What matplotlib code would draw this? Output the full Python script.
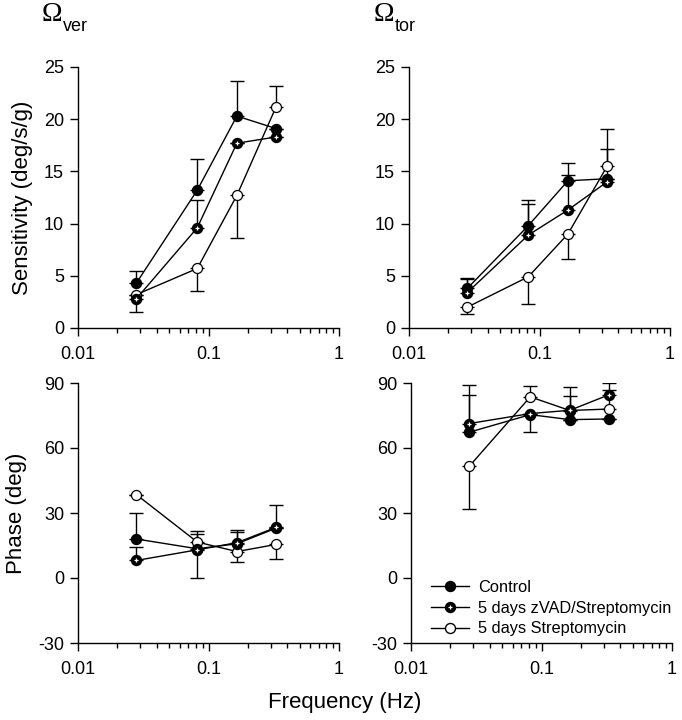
import numpy as np
import matplotlib
matplotlib.use("Agg")
import matplotlib.pyplot as plt
from matplotlib.lines import Line2D

plt.rcParams['font.family'] = ['Liberation Sans', 'DejaVu Sans']
plt.rcParams['axes.unicode_minus'] = False

freqs = [0.028, 0.082, 0.165, 0.33]

# sensitivity, vertical axis
ctrl_sens_ver = [4.3, 13.2, 20.3, 19.1]
ctrl_sens_ver_lo = [0, 0, 0, 0]
ctrl_sens_ver_hi = [1.2, 3.0, 3.4, 0]
zvad_sens_ver = [2.8, 9.6, 17.7, 18.3]
zvad_sens_ver_lo = [1.3, 0, 0, 0]
zvad_sens_ver_hi = [0, 2.7, 0, 0]
strep_sens_ver = [3.2, 5.7, 12.7, 21.2]
strep_sens_ver_lo = [0, 2.2, 4.1, 0]
strep_sens_ver_hi = [0, 0, 0, 2.0]

# sensitivity, torsional axis
ctrl_sens_tor = [3.8, 9.8, 14.1, 14.3]
ctrl_sens_tor_lo = [0, 0, 0, 0]
ctrl_sens_tor_hi = [1.0, 2.5, 1.7, 0]
zvad_sens_tor = [3.4, 8.9, 11.3, 14.0]
zvad_sens_tor_lo = [0, 0, 0, 0]
zvad_sens_tor_hi = [1.3, 3.0, 3.4, 3.1]
strep_sens_tor = [2.0, 4.9, 9.0, 15.5]
strep_sens_tor_lo = [0.7, 2.6, 2.4, 0]
strep_sens_tor_hi = [0, 0, 0, 3.6]

# phase, vertical axis
ctrl_phase_ver = [18.0, 13.5, 15.8, 23.0]
ctrl_phase_ver_lo = [0, 13.5, 0, 0]
ctrl_phase_ver_hi = [11.9, 0, 5.5, 0]
zvad_phase_ver = [8.1, 13.0, 16.3, 23.4]
zvad_phase_ver_lo = [0, 0, 0, 0]
zvad_phase_ver_hi = [6.1, 8.9, 5.9, 10.4]
strep_phase_ver = [38.5, 16.6, 12.2, 15.5]
strep_phase_ver_lo = [0, 0, 4.9, 6.5]
strep_phase_ver_hi = [0, 3.7, 0, 0]

# phase, torsional axis
ctrl_phase_tor = [67.3, 75.4, 73.1, 73.4]
ctrl_phase_tor_lo = [0, 8.0, 0, 0]
ctrl_phase_tor_hi = [17.2, 0, 0, 0]
zvad_phase_tor = [71.3, 75.9, 77.4, 84.6]
zvad_phase_tor_lo = [0, 0, 0, 0]
zvad_phase_tor_hi = [17.8, 0, 6.5, 5.2]
strep_phase_tor = [51.6, 83.6, 77.3, 78.0]
strep_phase_tor_lo = [19.6, 0, 0, 0]
strep_phase_tor_hi = [0, 5.2, 11.0, 9.0]

labels = ["Control", "5 days zVAD/Streptomycin", "5 days Streptomycin"]

W, H = 682, 720
fig = plt.figure(figsize=(6.82, 7.2), dpi=100)
ax_tl = fig.add_axes([78/W, 1-328/H, 261/W, 261/H])
ax_tr = fig.add_axes([409/W, 1-328/H, 261/W, 261/H])
ax_bl = fig.add_axes([78/W, 1-643/H, 261/W, 260/H])
ax_br = fig.add_axes([411/W, 1-643/H, 261/W, 260/H])

ms = 7.2


def draw(ax, ctrl, zvad, strep):
    for vals, lo, hi in (ctrl, zvad, strep):
        ax.errorbar(freqs, vals, yerr=[lo, hi], fmt='none', ecolor='black',
                    elinewidth=1, capsize=5, capthick=1, zorder=1)
    ax.plot(freqs, strep[0], '-', color='black', lw=1, marker='o', ms=ms,
            mfc='white', mec='black', mew=0.9, zorder=3)
    ax.plot(freqs, ctrl[0], '-', color='black', lw=1, marker='o', ms=ms,
            mfc='black', mec='black', zorder=4)
    ax.plot(freqs, zvad[0], '-', color='black', lw=1, marker='o', ms=ms,
            mfc='black', mec='black', zorder=5)
    ax.plot(freqs, zvad[0], linestyle='none', marker='+', ms=3.5, mec='white',
            mew=0.9, zorder=6)


def style(ax, ylim, yticks):
    ax.set_xscale('log')
    ax.set_xlim(0.01, 1)
    ax.set_ylim(*ylim)
    ax.set_yticks(yticks)
    ax.set_xticks([0.01, 0.1, 1])
    ax.set_xticklabels(["0.01", "0.1", "1"])
    for s in ('top', 'right'):
        ax.spines[s].set_visible(False)
    for s in ('left', 'bottom'):
        ax.spines[s].set_linewidth(1)
    ax.tick_params(axis='both', which='major', direction='out', length=6,
                   width=1, labelsize=13, pad=4)
    ax.tick_params(axis='x', which='minor', direction='out', length=3.5, width=1)
    ax.tick_params(axis='x', which='major', pad=7)
    ax.tick_params(axis='y', which='minor', left=False)


draw(ax_tl, (ctrl_sens_ver, ctrl_sens_ver_lo, ctrl_sens_ver_hi),
     (zvad_sens_ver, zvad_sens_ver_lo, zvad_sens_ver_hi),
     (strep_sens_ver, strep_sens_ver_lo, strep_sens_ver_hi))
draw(ax_tr, (ctrl_sens_tor, ctrl_sens_tor_lo, ctrl_sens_tor_hi),
     (zvad_sens_tor, zvad_sens_tor_lo, zvad_sens_tor_hi),
     (strep_sens_tor, strep_sens_tor_lo, strep_sens_tor_hi))
draw(ax_bl, (ctrl_phase_ver, ctrl_phase_ver_lo, ctrl_phase_ver_hi),
     (zvad_phase_ver, zvad_phase_ver_lo, zvad_phase_ver_hi),
     (strep_phase_ver, strep_phase_ver_lo, strep_phase_ver_hi))
draw(ax_br, (ctrl_phase_tor, ctrl_phase_tor_lo, ctrl_phase_tor_hi),
     (zvad_phase_tor, zvad_phase_tor_lo, zvad_phase_tor_hi),
     (strep_phase_tor, strep_phase_tor_lo, strep_phase_tor_hi))

for ax in (ax_tl, ax_tr):
    style(ax, (0, 25), [0, 5, 10, 15, 20, 25])
for ax in (ax_bl, ax_br):
    style(ax, (-30, 90), [-30, 0, 30, 60, 90])

ax_tl.set_ylabel("Sensitivity (deg/s/g)", fontsize=16, labelpad=8)
ax_bl.set_ylabel("Phase (deg)", fontsize=16, labelpad=8)
fig.text(0.505, 1-708/H, "Frequency (Hz)", ha='center', va='baseline', fontsize=16)

# panel titles
for x0, sub in ((42, "ver"), (374, "tor")):
    fig.text(x0/W, 1-21/H, "\u03a9", family='Liberation Serif',
             fontsize=20, ha='left', va='baseline')
    fig.text((x0+21)/W, 1-31/H, sub, fontsize=13, ha='left', va='baseline')

# legend
h_ctrl = Line2D([], [], color='black', lw=1, marker='o', ms=ms, mfc='black', mec='black')
h_zvad = (Line2D([], [], color='black', lw=1, marker='o', ms=ms, mfc='black', mec='black'),
          Line2D([], [], linestyle='none', marker='+', ms=3.5, mec='white', mew=0.9))
h_strep = Line2D([], [], color='black', lw=1, marker='o', ms=ms, mfc='white', mec='black')
ax_br.legend([h_ctrl, h_zvad, h_strep], labels, loc='center left',
             bbox_to_anchor=(431/W, 1-608/H), bbox_transform=fig.transFigure,
             frameon=False, fontsize=11.8, borderpad=0, borderaxespad=0,
             handlelength=2.3, handletextpad=0.55, labelspacing=0.36)

fig.savefig("out.png", dpi=100)
